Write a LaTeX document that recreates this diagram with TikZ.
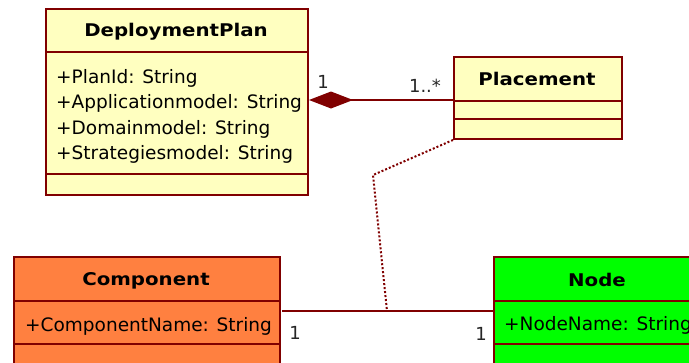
\documentclass[tikz,border=0pt]{standalone}
\usepackage{fontspec}
\setmainfont{DejaVu Sans}
\usetikzlibrary{arrows.meta}
\definecolor{bord}{HTML}{800000}
\definecolor{yel}{HTML}{FFFFC0}
\definecolor{orng}{HTML}{FF8040}
\definecolor{grn}{HTML}{00FF00}
\begin{document}
\begin{tikzpicture}[x=1pt,y=-1pt,
  cls/.style={draw=bord, line width=2pt, rectangle, inner sep=0pt, anchor=north west},
  divl/.style={draw=bord, line width=2pt},
  ttl/.style={font=\fontsize{17.5}{20}\selectfont\bfseries, anchor=base, inner sep=0pt},
  attr/.style={font=\fontsize{18.5}{22}\selectfont, anchor=base west, inner sep=0pt},
  mult/.style={font=\fontsize{18}{22}\selectfont, anchor=base, inner sep=0pt, text=black!85},
  assoc/.style={draw=bord, line width=2pt},
  dep/.style={draw=bord, line width=2pt, dash pattern=on 2pt off 2pt}]
\useasboundingbox (0,0) rectangle (689,362);
\clip (0,0) rectangle (689,362);
% DeploymentPlan
\node[cls, fill=yel, minimum width=262pt, minimum height=186pt] (dp) at (45,8) {};
\draw[divl] (45,52) -- (307,52);
\draw[divl] (45,174) -- (307,174);
\node[ttl] (dpT) at (176,36) {\scalebox{1.13}[1]{DeploymentPlan}};
\node[attr] (dpA1) at (56,83) {+PlanId: String};
\node[attr] (dpA2) at (56,108) {+Applicationmodel: String};
\node[attr] (dpA3) at (56,134) {+Domainmodel: String};
\node[attr] (dpA4) at (56,159) {+Strategiesmodel: String};
% Placement
\node[cls, fill=yel, minimum width=168pt, minimum height=82pt] (pl) at (453,56) {};
\draw[divl] (453,101) -- (621,101);
\draw[divl] (453,119) -- (621,119);
\node[ttl] (plT) at (537,85) {\scalebox{1.13}[1]{Placement}};
% Component
\node[cls, fill=orng, minimum width=266pt, minimum height=130pt] (cp) at (13,256) {};
\draw[divl] (13,301) -- (279,301);
\draw[divl] (13,344) -- (279,344);
\node[ttl] (cpT) at (146,285) {\scalebox{1.13}[1]{Component}};
\node[attr] (cpA1) at (25,331) {+ComponentName: String};
% Node
\node[cls, fill=grn, minimum width=240pt, minimum height=130pt] (nd) at (493,256) {};
\draw[divl] (493,301) -- (733,301);
\draw[divl] (493,344) -- (733,344);
\node[ttl] (ndT) at (597,286) {\scalebox{1.13}[1]{Node}};
\node[attr] (ndA1) at (504,330) {+NodeName: String};
% composition
\coordinate (cA) at (309,100);
\coordinate (cB) at (453,100);
\draw[assoc, {Diamond[length=44pt,width=17pt,fill=bord]}-] (cA) -- (cB);
\node[mult] (m1) at (323,88) {1};
\node[mult] (m2) at (425,92) {1..*};
% association
\coordinate (aA) at (282,311);
\coordinate (aB) at (493,311);
\coordinate (aM) at (387,311);
\coordinate (bend) at (373,175);
\draw[assoc] (aA) -- (aB);
\node[mult] (m3) at (295,339) {1};
\node[mult] (m4) at (481,340) {1};
% dependency of association class
\draw[dep] (pl.south west) -- (bend) -- (aM);
\end{tikzpicture}
\end{document}
